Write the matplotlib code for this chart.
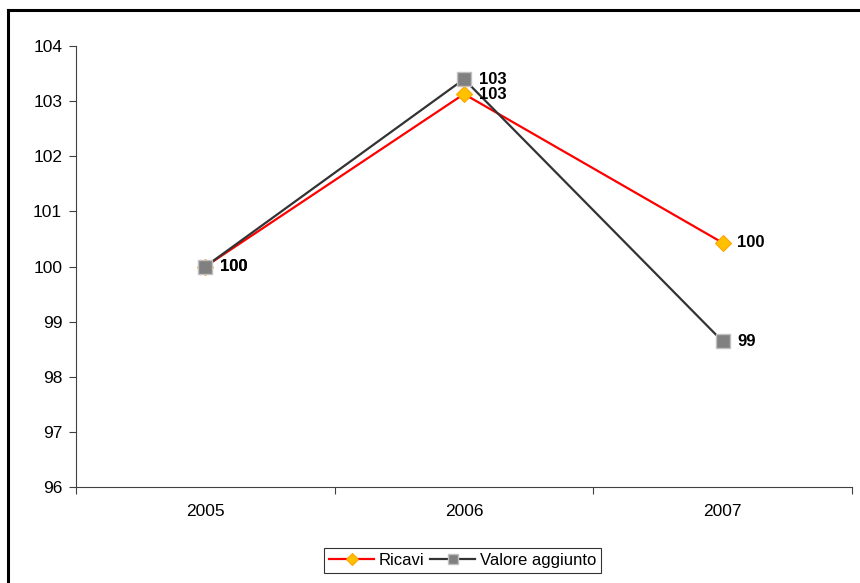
import matplotlib.pyplot as plt
from matplotlib.lines import Line2D

plt.rcParams['font.family'] = ['Liberation Sans', 'DejaVu Sans']

years = ["2005", "2006", "2007"]
ricavi = [100.0, 103.13, 100.43]
valore_aggiunto = [100.0, 103.40, 98.64]
series_names = ["Ricavi", "Valore aggiunto"]

fig = plt.figure(figsize=(8.6, 5.83), dpi=100)
ax = fig.add_axes([0.0884, 0.1647, 0.9023, 0.7563])

x = list(range(len(years)))
ax.plot(x, ricavi, color="#FF0000", lw=1.6, marker="D", ms=8.5,
        mfc="#FFC000", mec="#FFA500", mew=0.8, label=series_names[0], zorder=3)
ax.plot(x, valore_aggiunto, color="#333333", lw=1.6, marker="s", ms=9.5,
        mfc="#808080", mec="#C0C0C0", mew=1.0, label=series_names[1], zorder=4)

# value labels to the right of each point
for vals in (ricavi, valore_aggiunto):
    for xi, v in zip(x, vals):
        ax.annotate(f"{v:.0f}", (xi, v), xytext=(10.5, 0), textcoords="offset points",
                    ha="left", va="center", fontsize=12, fontweight="bold", zorder=5)

ax.set_ylim(96, 104)
ax.set_xlim(-0.5, 2.5)
ax.set_yticks(range(96, 105))
ax.set_xticks(x)
ax.set_xticklabels(years)
ax.set_xticks([-0.5, 0.5, 1.5, 2.5], minor=True)
ax.tick_params(axis="x", which="major", length=0, pad=12, labelsize=12.5)
ax.tick_params(axis="x", which="minor", length=5, width=0.8, color="#404040")
ax.tick_params(axis="y", length=5, width=0.8, color="#404040", labelsize=12.5, pad=5)

for side in ("top", "right"):
    ax.spines[side].set_visible(False)
ax.spines["left"].set_color("#404040")
ax.spines["bottom"].set_color("#404040")
ax.spines["left"].set_linewidth(0.8)
ax.spines["bottom"].set_linewidth(0.8)

leg = fig.legend(loc="center", bbox_to_anchor=(0.5378, 0.0386), ncol=2, fontsize=12,
                 frameon=True, fancybox=False, edgecolor="black", handlelength=2.7,
                 handletextpad=0.25, columnspacing=0.4, borderpad=0.3,
                 borderaxespad=0, markerscale=0.7)
leg.get_frame().set_linewidth(0.8)

# outer chart frame (left and top edges)
fig.add_artist(Line2D([0.0093, 0.0093], [0.0, 0.983], color="black", lw=2.2,
                      transform=fig.transFigure))
fig.add_artist(Line2D([0.0093, 1.0], [0.983, 0.983], color="black", lw=2.2,
                      transform=fig.transFigure))

fig.savefig("out.png", dpi=100)
